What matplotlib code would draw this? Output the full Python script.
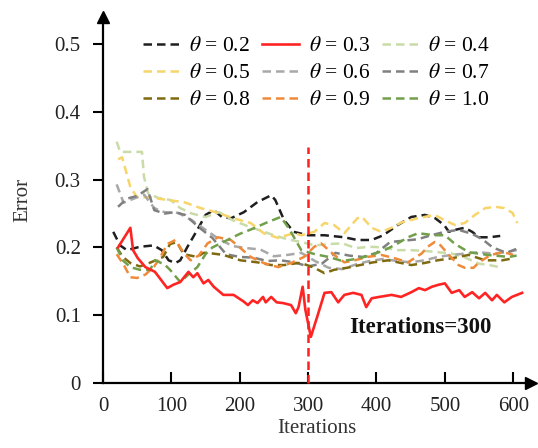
import matplotlib
matplotlib.use("Agg")
import matplotlib.pyplot as plt

plt.rcParams["font.family"] = ["Liberation Serif", "DejaVu Serif"]
plt.rcParams["mathtext.fontset"] = "stix"

# ---- data -------------------------------------------------------------
theta_labels = ["0.2", "0.3", "0.4", "0.5", "0.6", "0.7", "0.8", "0.9", "1.0"]
colors = ["#1f1f1f", "#ff2424", "#c9dca8", "#f7d56a", "#a8a8a8",
          "#808080", "#7f6a10", "#f08a3a", "#72a04a"]

x02 = [15, 25, 35, 54, 74, 86, 96, 106, 113, 123, 138, 150, 162, 174, 187, 206, 226, 246,
       252, 265, 279, 300, 324, 353, 372, 393, 410, 431, 451, 471, 486, 499, 506, 515, 529,
       540, 550, 565, 581]
y02 = [0.223, 0.203, 0.196, 0.201, 0.203, 0.196, 0.181, 0.177, 0.181, 0.200, 0.226, 0.248,
       0.255, 0.245, 0.243, 0.252, 0.267, 0.277, 0.270, 0.240, 0.223, 0.218, 0.218, 0.215,
       0.211, 0.211, 0.218, 0.233, 0.245, 0.248, 0.243, 0.233, 0.223, 0.226, 0.229, 0.223,
       0.215, 0.215, 0.217]

x03 = [22, 40, 44, 51, 62, 76, 94, 103, 113, 125, 132, 138, 147, 154, 162, 176, 191, 206,
       212, 219, 226, 234, 238, 246, 254, 263, 275, 282, 286, 292, 296, 304, 314, 324, 334,
       344, 353, 366, 378, 385, 393, 404, 422, 436, 451, 462, 471, 481, 491, 500, 510, 521,
       529, 540, 550, 559, 569, 576, 587, 598, 613]
y03 = [0.200, 0.229, 0.196, 0.184, 0.171, 0.164, 0.140, 0.145, 0.149, 0.164, 0.156, 0.162,
       0.147, 0.152, 0.142, 0.130, 0.130, 0.120, 0.115, 0.122, 0.118, 0.127, 0.119, 0.127,
       0.119, 0.118, 0.115, 0.103, 0.112, 0.142, 0.108, 0.068, 0.100, 0.133, 0.134, 0.119,
       0.130, 0.133, 0.130, 0.112, 0.125, 0.127, 0.130, 0.127, 0.134, 0.140, 0.137, 0.142,
       0.145, 0.147, 0.133, 0.137, 0.127, 0.134, 0.125, 0.133, 0.122, 0.130, 0.119, 0.127,
       0.133]

x04 = [20, 25, 40, 57, 60, 66, 81, 99, 113, 130, 150, 170, 190, 210, 230, 250, 270, 290,
       310, 330, 350, 370, 390, 410, 430, 450, 470, 490, 510, 530, 550, 565, 580]
y04 = [0.356, 0.341, 0.341, 0.341, 0.304, 0.280, 0.273, 0.270, 0.258, 0.250, 0.245, 0.252,
       0.240, 0.232, 0.225, 0.218, 0.212, 0.208, 0.203, 0.205, 0.206, 0.199, 0.201, 0.200,
       0.196, 0.196, 0.195, 0.193, 0.191, 0.185, 0.176, 0.174, 0.171]

x05 = [22, 28, 40, 50, 69, 94, 118, 143, 165, 191, 216, 235, 256, 279, 290, 309, 324, 338,
       353, 372, 379, 393, 407, 422, 437, 460, 485, 500, 515, 529, 544, 559, 574, 587, 599,
       606]
y05 = [0.330, 0.333, 0.289, 0.274, 0.274, 0.270, 0.267, 0.258, 0.252, 0.243, 0.236, 0.221,
       0.214, 0.221, 0.218, 0.223, 0.236, 0.233, 0.221, 0.243, 0.245, 0.229, 0.223, 0.229,
       0.237, 0.243, 0.248, 0.240, 0.233, 0.236, 0.248, 0.258, 0.260, 0.258, 0.251, 0.236]

x06 = [20, 30, 45, 60, 75, 90, 110, 130, 150, 170, 190, 210, 230, 250, 270, 290, 310, 330,
       350, 370, 390, 410, 430, 450, 470, 490, 510, 530, 550, 570, 590, 605]
y06 = [0.293, 0.266, 0.272, 0.278, 0.258, 0.252, 0.251, 0.240, 0.226, 0.212, 0.202, 0.199,
       0.197, 0.187, 0.189, 0.192, 0.180, 0.170, 0.168, 0.175, 0.180, 0.183, 0.180, 0.178,
       0.181, 0.186, 0.189, 0.191, 0.193, 0.191, 0.193, 0.196]

x07 = [22, 35, 50, 65, 75, 90, 105, 120, 140, 160, 180, 200, 220, 240, 260, 280, 300, 320,
       340, 360, 380, 400, 420, 440, 460, 480, 500, 520, 540, 555, 570, 590, 605]
y07 = [0.260, 0.272, 0.276, 0.286, 0.255, 0.250, 0.252, 0.248, 0.230, 0.214, 0.190, 0.186,
       0.185, 0.180, 0.181, 0.178, 0.172, 0.176, 0.192, 0.188, 0.186, 0.192, 0.208, 0.210,
       0.212, 0.218, 0.223, 0.226, 0.220, 0.212, 0.200, 0.192, 0.198]

x08 = [20, 29, 40, 54, 70, 88, 98, 108, 118, 138, 147, 153, 176, 201, 226, 246, 265, 285,
       290, 309, 324, 338, 357, 376, 395, 417, 451, 470, 489, 510, 535, 559, 584, 600]
y08 = [0.200, 0.186, 0.177, 0.172, 0.178, 0.186, 0.205, 0.208, 0.190, 0.186, 0.192, 0.192,
       0.189, 0.181, 0.178, 0.174, 0.174, 0.177, 0.177, 0.170, 0.162, 0.167, 0.170, 0.174,
       0.178, 0.181, 0.174, 0.177, 0.181, 0.184, 0.189, 0.181, 0.181, 0.184]

x09 = [20, 30, 40, 50, 62, 75, 84, 94, 106, 118, 128, 140, 153, 168, 187, 200, 216, 235,
       256, 275, 294, 309, 319, 328, 338, 353, 368, 387, 407, 427, 446, 466, 475, 485, 492,
       505, 520, 529, 542, 550, 567, 586, 600]
y09 = [0.190, 0.175, 0.156, 0.155, 0.160, 0.172, 0.186, 0.205, 0.211, 0.192, 0.181, 0.188,
       0.206, 0.215, 0.211, 0.200, 0.186, 0.177, 0.171, 0.177, 0.186, 0.201, 0.206, 0.198,
       0.189, 0.178, 0.181, 0.186, 0.189, 0.184, 0.178, 0.191, 0.201, 0.208, 0.205, 0.190,
       0.174, 0.170, 0.170, 0.178, 0.189, 0.193, 0.189]

x10 = [20, 29, 40, 54, 69, 76, 90, 98, 113, 125, 138, 150, 160, 180, 200, 220, 240, 260,
       272, 290, 310, 330, 350, 370, 390, 412, 431, 446, 461, 485, 500, 515, 535, 562, 594,
       605]
y10 = [0.200, 0.181, 0.171, 0.167, 0.167, 0.181, 0.175, 0.167, 0.149, 0.160, 0.171, 0.190,
       0.200, 0.210, 0.220, 0.228, 0.237, 0.245, 0.228, 0.196, 0.190, 0.186, 0.180, 0.183,
       0.188, 0.196, 0.206, 0.215, 0.221, 0.218, 0.218, 0.205, 0.193, 0.189, 0.186, 0.188]

series_x = [x02, x03, x04, x05, x06, x07, x08, x09, x10]
series_y = [y02, y03, y04, y05, y06, y07, y08, y09, y10]

x_ticks = [0, 100, 200, 300, 400, 500, 600]
y_ticks = [0, 0.1, 0.2, 0.3, 0.4, 0.5]
y_ticklabels = ["0", "0.1", "0.2", "0.3", "0.4", "0.5"]
marker_iter = 300
marker_top = 0.348

# ---- figure -----------------------------------------------------------
W, H = 538, 448
fig = plt.figure(figsize=(W / 100, H / 100), dpi=100)
ax = fig.add_axes([103 / W, 65 / H, (531 - 103) / W, (383 - 17) / H])
ax.set_xlim(0, 626)
ax.set_ylim(0, 0.540)

dash = (0, (3.4, 2.0))
handles = []
for i, (xs, ys) in enumerate(zip(series_x, series_y)):
    solid = theta_labels[i] == "0.3"
    ln, = ax.plot(xs, ys, color=colors[i], lw=1.9 if solid else 1.8,
                  linestyle="-" if solid else dash, zorder=5 if solid else 3,
                  label=r"$\theta$ = " + theta_labels[i])
    handles.append(ln)

ax.plot([marker_iter, marker_iter], [0, marker_top], color="#ff2020", lw=1.8,
        linestyle=(0, (3.4, 2.0)), zorder=6, clip_on=False)
ax.text(360, 0.082, "Iterations=300", fontsize=16.5, fontweight="bold",
        va="center", ha="left", color="#111111")

# axes with arrowheads
for s in ("top", "right"):
    ax.spines[s].set_visible(False)
for s in ("left", "bottom"):
    ax.spines[s].set_linewidth(1.6)
    ax.spines[s].set_color("black")
ax.plot(1, 0, marker=">", color="black", markersize=9, transform=ax.transAxes,
        clip_on=False, zorder=10)
ax.plot(0, 1, marker="^", color="black", markersize=9, transform=ax.transAxes,
        clip_on=False, zorder=10)

ax.set_xticks(x_ticks)
ax.set_yticks(y_ticks)
ax.set_yticklabels(y_ticklabels)
ax.tick_params(axis="x", direction="in", length=8, width=1.5, labelsize=15, pad=10,
               labelcolor="#222222")
ax.tick_params(axis="y", direction="out", length=7, width=1.5, labelsize=15, pad=9,
               labelcolor="#222222")
ax.set_xlabel("Iterations", fontsize=15, labelpad=2, color="#333333")
ax.set_ylabel("Error", fontsize=15, labelpad=16, color="#333333")

# legend laid out row by row: column-major order for matplotlib
order = [0, 3, 6, 1, 4, 7, 2, 5, 8]
ax.legend([handles[k] for k in order], [handles[k].get_label() for k in order],
          ncol=3, loc="upper left", bbox_to_anchor=(143 / W, 1 - 36 / H),
          bbox_transform=fig.transFigure, frameon=False, fontsize=15.5,
          handlelength=1.7, handletextpad=0.45, columnspacing=0.55,
          labelspacing=0.33, borderpad=0, borderaxespad=0)

fig.savefig("out.png", dpi=100)
